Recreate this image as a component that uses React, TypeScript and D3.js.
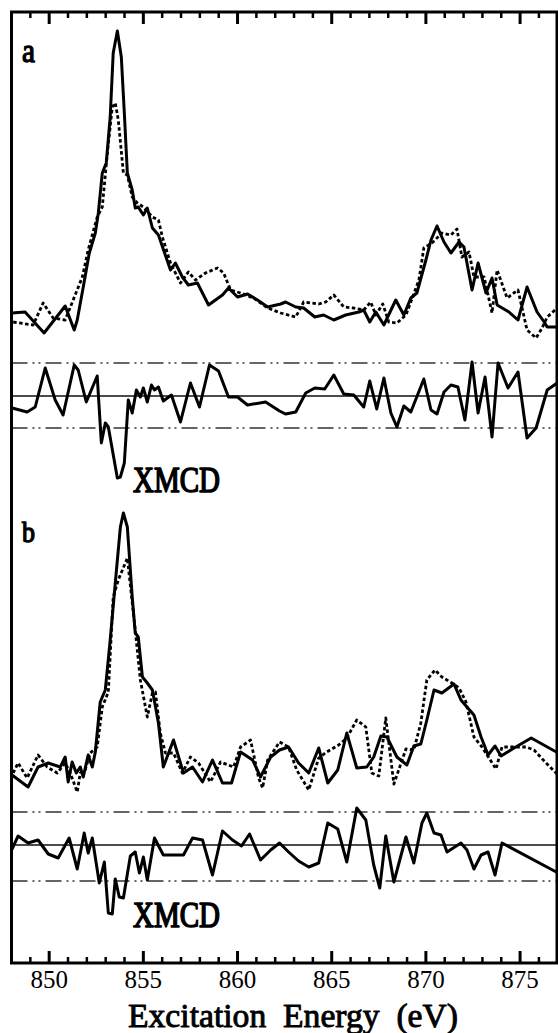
import React from 'react'
import * as d3 from 'd3'

type Pt = [number, number]

// energy (eV), intensity (arb. units)
const aSolid: Pt[] = [
  [848.03, -0.3], [848.72, -0.2], [849.73, -2.3], [850.85, 0.4], [851.33, -2.0], [851.49, -1.0],
  [851.81, 2.3], [852.13, 5.7], [852.45, 7.7], [852.61, 9.7], [852.82, 13.7], [853.03, 14.7],
  [853.24, 19.3], [853.4, 25.7], [853.62, 27.9], [853.83, 25.3], [853.99, 19.7], [854.15, 13.7],
  [854.41, 12.0], [854.57, 10.2], [854.73, 10.3], [855.0, 9.5], [855.21, 10.2], [855.48, 8.2],
  [855.8, 7.5], [856.44, 4.0], [856.7, 4.7], [857.07, 3.3], [857.39, 2.5], [857.87, 2.7],
  [858.46, 0.5], [859.2, 1.5], [859.52, 2.2], [860.0, 1.3], [860.53, 1.6], [861.06, 1.0],
  [861.6, 0.3], [862.29, 0.6], [862.55, 0.8], [863.09, 0.3], [863.51, 0.2], [864.1, -0.7],
  [864.57, -0.5], [865.11, -1.0], [865.74, -0.5], [866.44, -0.2], [866.7, 0], [867.02, -1.2],
  [867.34, -0.2], [867.77, -1.5], [868.4, 1.0], [868.83, -0.5], [869.2, 1.2], [869.52, 1.7],
  [870.0, 5.0], [870.27, 7.0], [870.59, 8.4], [870.96, 6.8], [871.33, 5.7], [871.76, 6.8],
  [872.02, 6.3], [872.45, 2.0], [872.77, 4.7], [873.19, 1.7], [873.51, 3.2], [873.78, 0.5],
  [874.41, -0.2], [874.89, -1.0], [875.37, 2.3], [875.9, -0.2], [876.28, -1.2], [876.44, -1.7],
  [877.02, -1.7],
]

const aDotted: Pt[] = [
  [848.09, -1.2], [849.15, -1.5], [849.68, 0.7], [850.21, -0.8], [850.85, -1.0], [851.76, 3.3],
  [852.07, 6.0], [852.55, 9.3], [852.82, 10.3], [853.09, 15.7], [853.35, 20.3], [853.51, 20.7],
  [853.67, 19.0], [853.94, 13.7], [854.15, 13.5], [854.41, 11.3], [854.68, 10.7], [855.0, 10.3],
  [855.48, 9.3], [855.8, 9.0], [856.01, 7.3], [856.44, 4.7], [856.97, 2.7], [857.39, 3.8],
  [857.77, 3.0], [858.3, 3.7], [858.94, 4.2], [859.26, 3.7], [859.63, 2.0], [860.16, 1.7],
  [860.85, 1.2], [861.6, 0.2], [862.29, -0.3], [863.09, -0.7], [863.51, 0.8], [864.31, 0.6],
  [864.68, 0.8], [865.11, 1.5], [865.64, 0.3], [866.17, 0.2], [866.7, 0], [867.07, 0.8],
  [867.34, -0.5], [867.71, 0.6], [868.03, -1.2], [868.46, -1.3], [868.94, -0.5], [869.2, 0.8],
  [869.63, 3.0], [869.89, 6.2], [870.32, 6.7], [870.85, 7.7], [871.33, 7.5], [871.65, 8.1],
  [871.91, 5.3], [872.29, 5.8], [872.55, 3.3], [873.09, 3.3], [873.51, -0.3], [873.78, 4.0],
  [874.31, 1.2], [874.89, 2.0], [875.37, -2.0], [875.85, -2.8], [876.17, -1.8], [876.44, -0.7],
  [876.97, 0.2],
]

const aXmcd: Pt[] = [
  [848.03, -1.2], [848.83, -1.6], [849.26, -1.1], [849.79, 2.8], [850.32, -0.4], [850.74, -1.9],
  [851.33, 3.1], [851.54, 2.6], [851.97, -0.6], [852.55, 2.0], [852.77, -4.7], [852.98, -2.7],
  [853.14, -3.1], [853.62, -8.2], [853.78, -8.1], [853.99, -6.7], [854.2, -0.4], [854.41, -1.7],
  [854.63, 0.6], [854.84, -0.1], [855.0, 0.8], [855.21, -0.6], [855.43, 1.1], [855.59, 0.6],
  [855.8, 0.9], [856.06, -0.5], [856.49, 0.1], [856.97, -2.6], [857.5, 1.3], [857.98, -1.1],
  [858.51, 3.1], [858.99, 2.5], [859.52, -0.1], [860.0, -0.1], [860.53, -0.9], [861.49, -0.6],
  [862.23, -1.5], [862.55, -1.8], [863.09, -1.6], [863.62, 0.3], [864.1, 0.8], [864.63, 0.7],
  [865.11, 2.1], [865.64, 0.2], [866.17, 0.1], [866.7, -1.1], [867.02, 1.5], [867.39, -1.3],
  [867.77, 1.8], [868.14, -1.7], [868.46, -3.1], [868.83, -1.0], [869.2, -1.6], [869.89, 1.7],
  [870.27, -1.4], [870.59, -1.8], [870.96, 0.4], [871.33, 1.1], [871.7, 0.9], [872.07, -2.4],
  [872.45, 3.4], [872.77, -1.7], [873.14, 1.9], [873.51, -4.1], [873.83, 3.3], [874.36, 0.8],
  [874.89, 2.4], [875.37, -4.2], [875.85, -3.2], [876.44, 0.6], [876.97, 1.3],
]

const bSolid: Pt[] = [
  [848.03, -0.5], [848.88, -1.7], [849.41, 0.3], [849.95, 0.7], [850.59, 0.3], [850.85, 1.3],
  [851.01, -1.2], [851.22, 0.8], [851.44, -0.3], [851.65, 0.3], [851.81, -0.7], [852.07, 1.5],
  [852.29, 0.3], [852.45, 1.8], [852.71, 6.8], [852.98, 8.0], [853.24, 13.0], [853.51, 18.7],
  [853.78, 24.3], [853.94, 25.7], [854.15, 24.3], [854.41, 17.3], [854.57, 13.7], [854.73, 13.3],
  [854.95, 9.3], [855.21, 8.7], [855.48, 8.0], [855.8, 4.7], [856.06, 0.3], [856.6, 3.0],
  [857.13, -0.3], [857.61, 0.3], [858.14, -1.2], [858.67, 1.0], [859.2, -1.3], [859.68, -1.3],
  [860.16, 1.8], [860.8, 1.0], [861.22, -0.7], [861.76, 1.3], [862.23, 2.0], [862.71, 2.3],
  [863.24, 0.7], [863.78, -0.3], [864.31, 2.2], [864.79, -1.3], [865.32, 0], [865.8, 3.7],
  [866.33, 0.2], [866.86, 0.3], [867.23, 1.3], [867.61, 3.4], [867.93, 3.3], [868.46, 1.3],
  [868.99, 0.5], [869.36, 2.4], [869.73, 2.6], [870.05, 5.0], [870.43, 8.0], [870.85, 7.7],
  [871.49, 8.6], [871.86, 7.0], [872.18, 6.3], [872.55, 5.5], [872.93, 3.3], [873.3, 1.5],
  [873.67, 2.4], [873.99, 1.4], [874.68, 2.2], [875.59, 3.2], [877.02, 1.7],
]

const bDotted: Pt[] = [
  [848.09, -0.3], [848.35, 0.7], [848.83, -0.8], [849.41, 1.5], [849.89, 0.3], [850.43, -0.3],
  [850.85, 0.7], [851.12, -0.3], [851.49, -2.2], [851.65, -0.3], [851.91, 0], [852.18, 1.7],
  [852.55, 2.3], [852.82, 6.3], [853.14, 7.8], [853.4, 17.3], [853.67, 19.0], [854.15, 21.2],
  [854.57, 14.0], [854.84, 9.0], [855.21, 5.3], [855.48, 7.7], [855.64, 7.8], [855.9, 3.7],
  [856.17, 1.7], [856.6, 1.7], [857.07, -0.3], [857.5, 1.3], [857.93, 0.7], [858.56, -1.2],
  [859.1, 0.8], [859.79, 0.3], [860.16, 2.3], [860.69, 3.0], [861.12, -0.8], [861.33, -1.8],
  [861.6, 1.0], [862.23, 2.8], [862.71, 2.3], [863.14, 0], [863.78, -2.0], [864.31, 1.2],
  [864.73, 1.8], [865.37, 2.5], [865.8, 3.2], [866.33, 5.0], [866.81, 4.3], [867.13, -0.3],
  [867.5, -0.6], [867.87, 5.2], [868.3, -1.4], [868.94, 2.1], [869.36, 2.0], [869.73, 4.7],
  [870.05, 9.0], [870.48, 10.0], [870.85, 9.3], [871.38, 8.7], [871.76, 8.2], [872.13, 6.8],
  [872.55, 3.3], [872.98, 2.3], [873.72, 0.1], [874.04, 2.3], [875.32, 2.3], [875.74, 2.0],
  [876.38, 0.7], [877.02, -0.5],
]

const bXmcd: Pt[] = [
  [847.93, -0.8], [848.35, 0.9], [848.88, 0.2], [849.41, 0.5], [849.95, -0.9], [850.48, -1.3],
  [851.06, 0.7], [851.49, -2.4], [851.86, 1.2], [852.07, -0.8], [852.29, 0.7], [852.66, -3.8],
  [852.93, -1.7], [853.14, -6.8], [853.35, -6.9], [853.51, -3.4], [853.72, -5.2], [853.94, -5.3],
  [854.31, -1.1], [854.57, -0.7], [854.79, -2.8], [855.0, -1.2], [855.21, -3.5], [855.59, 0.7],
  [856.06, -1.0], [857.13, -1.0], [857.61, 0.7], [858.14, 0.5], [858.67, -3.0], [859.2, 1.4],
  [859.73, 0.5], [860.21, -0.1], [860.64, 1.1], [861.22, -1.5], [861.76, -0.5], [862.23, 0.2],
  [862.71, -0.7], [863.24, -1.6], [863.78, -2.2], [864.31, -1.8], [864.79, 2.2], [865.32, 1.6],
  [865.8, -1.7], [866.33, 3.7], [866.81, 2.5], [867.23, -2.0], [867.55, -4.3], [867.87, 0.9],
  [868.3, -3.7], [868.94, 0.8], [869.36, -1.8], [869.79, 2.2], [870.05, 3.2], [870.43, 1.2],
  [870.8, 1.0], [871.12, -0.7], [871.86, 0.2], [872.18, -0.5], [872.55, -2.4], [872.93, -1.0],
  [873.3, -0.7], [873.67, -3.0], [874.04, 0.2], [877.02, -2.8],
]

// noise level of the XMCD difference (upper, lower)
const aNoise = [3.3, -3.2]
const bNoise = [3.3, -3.6]

const majorTicks = [850, 855, 860, 865, 870, 875]
const xLabel = 'Excitation  Energy  (eV)'

const serif = { fontFamily: "'Liberation Serif'" }

const left = 11.5
const right = 557
const top = 12
const bottom = 963

const x = d3.scaleLinear().domain([848.0, 876.96]).range([left, right])
const yA = d3.scaleLinear().domain([0, 28]).range([310, 30])
const yAx = d3.scaleLinear().domain([-4, 4]).range([436, 356])
const yB = d3.scaleLinear().domain([0, 28]).range([770, 490])
const yBx = d3.scaleLinear().domain([-4, 4]).range([885, 805])

function Trace({ data, y, dotted }: { data: Pt[]; y: d3.ScaleLinear<number, number>; dotted?: boolean }) {
  const line = d3.line<Pt>().x(d => x(d[0])).y(d => y(d[1]))
  return (
    <path
      d={line(data) || ''}
      fill="none"
      stroke="#000"
      strokeWidth={dotted ? 2.8 : 3}
      strokeLinejoin="round"
      strokeDasharray={dotted ? '3.5,2.5' : undefined}
    />
  )
}

function RefLines({ y, noise }: { y: d3.ScaleLinear<number, number>; noise: number[] }) {
  return (
    <g>
      <line x1={left} x2={right} y1={y(0)} y2={y(0)} stroke="#111" strokeWidth={1.4} />
      {noise.map(n => (
        <line key={n} x1={left} x2={right} y1={y(n)} y2={y(n)} stroke="#333" strokeWidth={1.4}
          strokeDasharray="16,5,2,4,2,5" />
      ))}
    </g>
  )
}

// regular face thickened with a stroke, so the serif family is kept
function Label({ t, lx, ly, size, width, weight }: { t: string; lx: number; ly: number; size: number; width: number; weight: number }) {
  return (
    <text x={lx} y={ly} fontSize={size} style={{ ...serif, whiteSpace: 'pre' }}
      stroke="#000" strokeWidth={weight} strokeLinejoin="round"
      textLength={width} lengthAdjust="spacingAndGlyphs">{t}</text>
  )
}

export default function App() {
  const minor = d3.range(849, 877).filter(v => !majorTicks.includes(v))
  return (
    <svg width={558} height={1033} style={{ position: 'absolute', left: 0, top: 0, background: '#fff' }}>
      <defs>
        <clipPath id="plot-clip">
          <rect x={left} y={top} width={right - left} height={bottom - top} />
        </clipPath>
      </defs>
      <g clipPath="url(#plot-clip)">
        <RefLines y={yAx} noise={aNoise} />
        <RefLines y={yBx} noise={bNoise} />
        <Trace data={aDotted} y={yA} dotted />
        <Trace data={aSolid} y={yA} />
        <Trace data={aXmcd} y={yAx} />
        <Trace data={bDotted} y={yB} dotted />
        <Trace data={bSolid} y={yB} />
        <Trace data={bXmcd} y={yBx} />
      </g>
      <rect x={left} y={top} width={right - left} height={bottom - top} fill="none" stroke="#000" strokeWidth={3} />

      {/* inward ticks, top and bottom */}
      <g stroke="#000">
        {majorTicks.map(v => (
          <g key={v}>
            <line x1={x(v)} x2={x(v)} y1={bottom} y2={bottom - 12} strokeWidth={3} />
            <line x1={x(v)} x2={x(v)} y1={top} y2={top + 12} strokeWidth={3} />
          </g>
        ))}
        {minor.map(v => (
          <g key={v}>
            <line x1={x(v)} x2={x(v)} y1={bottom} y2={bottom - 6} strokeWidth={2.5} />
            <line x1={x(v)} x2={x(v)} y1={top} y2={top + 6} strokeWidth={2.5} />
          </g>
        ))}
      </g>

      {majorTicks.map(v => (
        <text key={v} x={x(v)} y={988} textAnchor="middle" fontSize={25} style={serif}>{v}</text>
      ))}

      <Label t={xLabel} lx={128} ly={1027} size={33} width={330} weight={0.9} />
      <Label t="a" lx={22} ly={62} size={34} width={13} weight={1.4} />
      <Label t="b" lx={22} ly={542} size={30} width={13} weight={1.4} />
      <Label t="XMCD" lx={133} ly={492} size={35} width={87} weight={1.6} />
      <Label t="XMCD" lx={133} ly={927} size={35} width={87} weight={1.6} />
    </svg>
  )
}
